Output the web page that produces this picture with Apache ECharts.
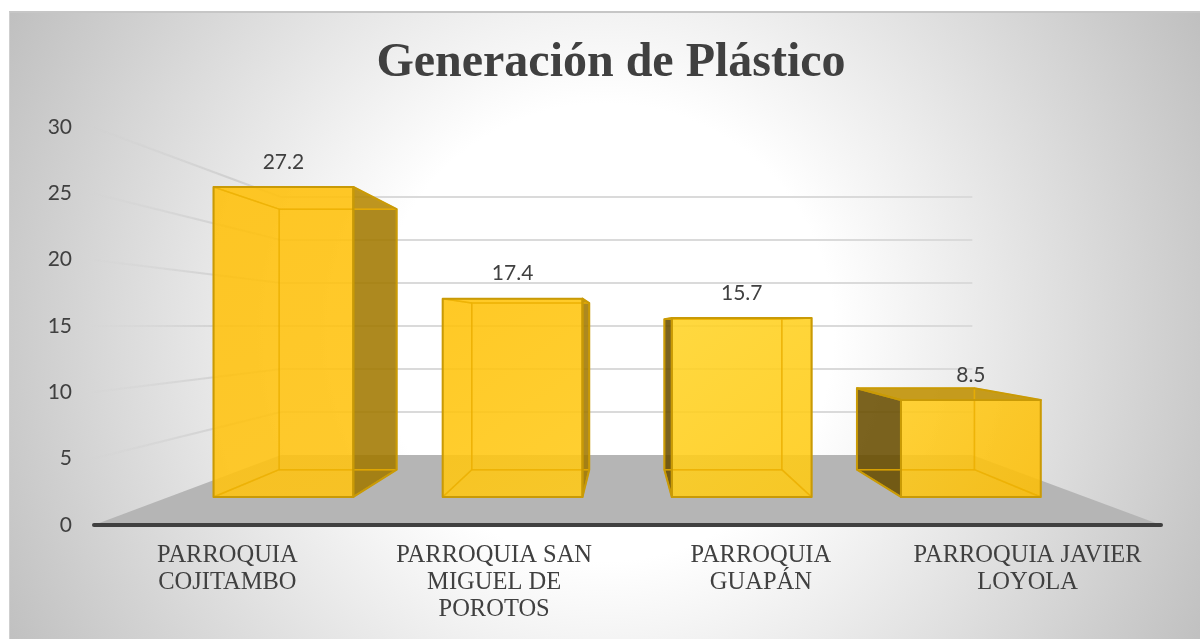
<!DOCTYPE html>
<html>
<head>
<meta charset="utf-8">
<script src="https://cdn.jsdelivr.net/npm/echarts@6/dist/echarts.min.js"></script>
<style>
  html, body { margin: 0; padding: 0; background: #fff; }
  #frame {
    position: absolute; left: 9px; top: 11px; width: 1191px; height: 628px;
    box-sizing: border-box; border-top: 2px solid #c6c6c6; border-left: 1px solid #cfcfcf;
    background: radial-gradient(circle 715px at 50% 51%, #ffffff 0%, #ffffff 32%, #bababa 100%);
  }
  #chart { position: absolute; left: 0; top: 0; width: 1200px; height: 639px; }
</style>
</head>
<body>
<div id="frame"></div>
<div id="chart"></div>
<script>
// Plastic generation per parish
const categories = [
  'PARROQUIA\nCOJITAMBO',
  'PARROQUIA SAN\nMIGUEL DE\nPOROTOS',
  'PARROQUIA\nGUAPÁN',
  'PARROQUIA JAVIER\nLOYOLA'
];
const plasticValues = [27.2, 17.4, 15.7, 8.5];
const axisTicks = [5, 10, 15, 20, 25, 30];
const chartTitle = 'Generación de Plástico';

// Perspective of the 3D box: depth factors towards the vanishing point
const VANISH = [625, 326];
const DEPTH_BACK_WALL = 0.648;
const DEPTH_BAR_FRONT = 0.859;
const DEPTH_BAR_BACK = 0.722;
const BAR_WIDTH_RATIO = 0.61;

const project = (p, k) => [VANISH[0] + k * (p[0] - VANISH[0]), VANISH[1] + k * (p[1] - VANISH[1])];

const frontShades = [
  ['rgba(255,192,10,0.86)', 'rgba(255,196,20,0.86)'],
  ['rgba(255,194,10,0.86)', 'rgba(255,202,25,0.86)'],
  ['rgba(255,212,40,0.86)', 'rgba(255,202,20,0.86)'],
  ['rgba(255,204,30,0.86)', 'rgba(252,190,8,0.86)']
];

function renderFloor(params, api) {
  const g = params.coordSys;
  const y0 = api.coord([0, 0])[1];
  const a = [g.x, y0], b = [g.x + g.width, y0];
  return {
    type: 'polygon',
    shape: { points: [a, b, project(b, DEPTH_BACK_WALL), project(a, DEPTH_BACK_WALL)] },
    style: { fill: '#b5b5b5' }
  };
}

function renderGridLine(params, api) {
  const g = params.coordSys;
  const y = api.coord([0, api.value(1)])[1];
  const a = [g.x - 2, y];
  const b = project([g.x, y], DEPTH_BACK_WALL);
  const c = project([g.x + g.width, y], DEPTH_BACK_WALL);
  const fade = new echarts.graphic.LinearGradient(a[0], a[1], b[0], b[1], [
    { offset: 0, color: 'rgba(205,205,205,0)' },
    { offset: 0.75, color: 'rgba(205,205,205,0.9)' },
    { offset: 1, color: 'rgba(218,218,218,1)' }
  ], true);
  return {
    type: 'group',
    children: [
      { type: 'line', shape: { x1: a[0], y1: a[1], x2: b[0], y2: b[1] }, style: { stroke: fade, lineWidth: 2, fill: null } },
      { type: 'line', shape: { x1: b[0], y1: b[1], x2: c[0], y2: c[1] }, style: { stroke: '#dadada', lineWidth: 2, fill: null } }
    ]
  };
}

function renderBar(params, api) {
  const i = api.value(0);
  const v = api.value(1);
  const base = api.coord([i, 0]);
  const top = api.coord([i, v]);
  const half = api.size([1, 0])[0] * BAR_WIDTH_RATIO / 2;
  const corners = (k) => ({
    bl: project([base[0] - half, base[1]], k),
    br: project([base[0] + half, base[1]], k),
    tl: project([base[0] - half, top[1]], k),
    tr: project([base[0] + half, top[1]], k)
  });
  const f = corners(DEPTH_BAR_FRONT);
  const b = corners(DEPTH_BAR_BACK);
  const inner = 'rgba(235,175,0,0.6)';
  const edge = '#c99a06';
  const face = (pts, fill, stroke, width) => ({
    type: 'polygon',
    shape: { points: pts },
    style: { fill: fill || 'none', stroke: stroke || 'none', lineWidth: width || 2, lineJoin: 'round' }
  });
  const hidden = 'rgba(255,192,0,0.2)';
  const leftVisible = f.bl[0] > VANISH[0];
  const rightVisible = f.br[0] < VANISH[0];
  const topVisible = f.tl[1] > VANISH[1];
  const shade = frontShades[params.dataIndex];
  const leftPts = [f.tl, f.bl, b.bl, b.tl];
  const rightPts = [f.tr, f.br, b.br, b.tr];
  const topPts = [f.tl, f.tr, b.tr, b.tl];
  const backPts = [b.tl, b.tr, b.br, b.bl];
  const bottomPts = [f.bl, f.br, b.br, b.bl];
  const frontPts = [f.tl, f.tr, f.br, f.bl];
  const children = [
    face(backPts, hidden),
    face(bottomPts, hidden),
    face(leftPts, leftVisible ? 'rgba(100,74,0,0.85)' : hidden),
    face(rightPts, rightVisible ? 'rgba(159,119,0,0.85)' : hidden),
    face(topPts, topVisible ? 'rgba(189,142,0,0.85)' : hidden),
    face(frontPts, new echarts.graphic.LinearGradient(0, 0, 1, 1, [
      { offset: 0, color: shade[0] },
      { offset: 1, color: shade[1] }
    ])),
    // Edges on the far side show through the translucent front
    face(backPts, null, inner, 1.5),
    face(bottomPts, null, inner, 1.5)
  ];
  if (!leftVisible) children.push(face(leftPts, null, inner, 1.5));
  if (!rightVisible) children.push(face(rightPts, null, inner, 1.5));
  if (!topVisible) children.push(face(topPts, null, inner, 1.5));
  if (leftVisible) children.push(face(leftPts, null, edge));
  if (rightVisible) children.push(face(rightPts, null, edge));
  if (topVisible) children.push(face(topPts, null, edge));
  children.push(face(frontPts, null, edge));
  children.push({
    type: 'text',
    style: {
      text: String(v),
      x: (f.tl[0] + f.tr[0]) / 2,
      y: f.tl[1] - 25,
      align: 'center',
      verticalAlign: 'middle',
      fill: '#404040',
      font: '21px Lato'
    }
  });
  return { type: 'group', children };
}

const chart = echarts.init(document.getElementById('chart'), null, { renderer: 'canvas' });
chart.setOption({
  animation: false,
  backgroundColor: 'transparent',
  title: {
    text: chartTitle,
    left: 606,
    top: 35,
    textAlign: 'center',
    textStyle: { fontFamily: 'Liberation Serif', fontWeight: 'bold', fontSize: 48, color: '#404040' }
  },
  grid: { left: 94, top: 127, width: 1067, height: 398 },
  xAxis: {
    type: 'category',
    data: categories,
    z: 10,
    axisTick: { show: false },
    axisLine: { show: true, lineStyle: { color: '#404040', width: 4, cap: 'round' } },
    axisLabel: {
      interval: 0,
      margin: 17,
      color: '#404040',
      fontFamily: 'Liberation Serif',
      fontSize: 24.5,
      lineHeight: 27
    }
  },
  yAxis: {
    type: 'value',
    min: 0,
    max: 30,
    interval: 5,
    axisLine: { show: false },
    axisTick: { show: false },
    splitLine: { show: false },
    axisLabel: { margin: 22, color: '#404040', fontFamily: 'Lato', fontSize: 21, padding: [4, 0, 0, 0] }
  },
  series: [
    { type: 'custom', z: 1, silent: true, renderItem: renderFloor, data: [[0, 0]], encode: { x: 0, y: 1 } },
    { type: 'custom', z: 2, silent: true, renderItem: renderGridLine, data: axisTicks.map(t => [0, t]), encode: { x: 0, y: 1 } },
    { type: 'custom', z: 3, silent: true, renderItem: renderBar, data: plasticValues.map((v, i) => [i, v]), encode: { x: 0, y: 1 } }
  ]
});
</script>
</body>
</html>
